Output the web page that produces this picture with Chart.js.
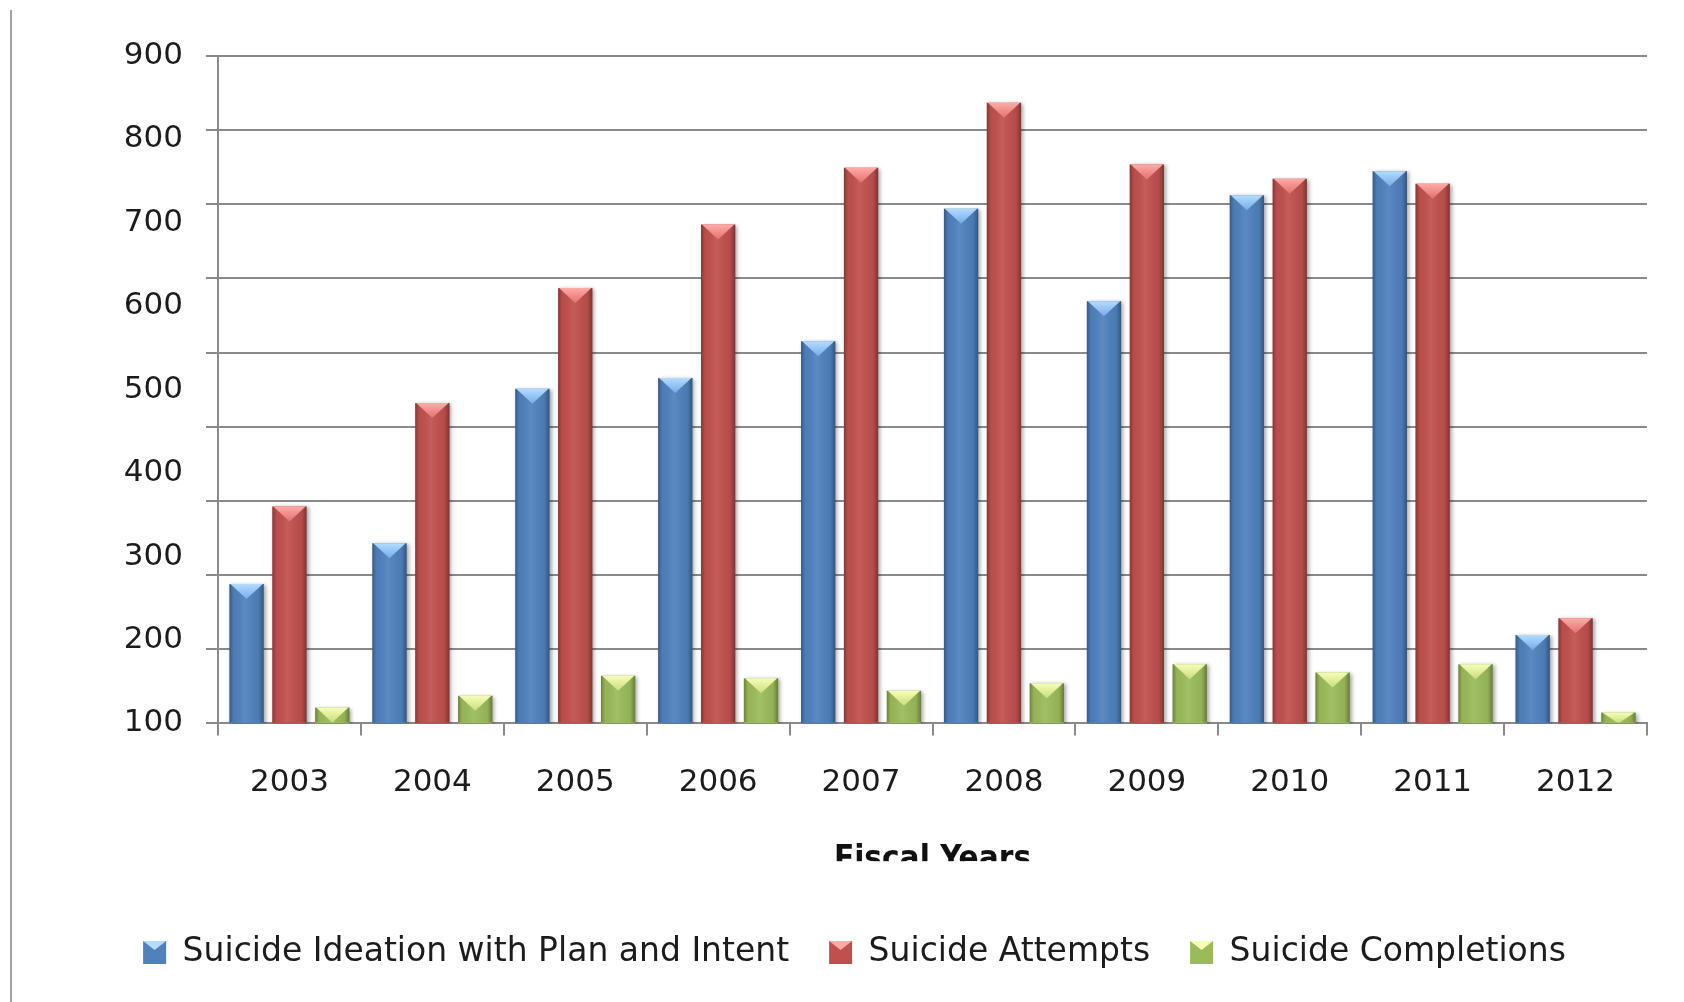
<!DOCTYPE html>
<html>
<head>
<meta charset="utf-8">
<script src="https://cdn.jsdelivr.net/npm/chart.js@4/dist/chart.umd.min.js"></script>
<style>
  html, body { margin: 0; padding: 0; background: #fff; }
  #wrap { position: relative; width: 1684px; height: 1002px; }
  #frame-line { position: absolute; left: 10px; top: 10px; bottom: 0; width: 2px; background: #a4a4a4; }
</style>
</head>
<body>
<div id="wrap">
  <div id="frame-line"></div>
  <canvas id="chart"></canvas>
</div>
<script>
// ====================
// Data
// ====================
const years = ["2003","2004","2005","2006","2007","2008","2009","2010","2011","2012"];
const ideation = [267, 316, 501, 514, 558, 717, 606, 733, 762, 206];
const attempts = [360, 484, 622, 698, 766, 844, 770, 753, 747, 226];
const completions = [119, 133, 157, 154, 139, 148, 171, 161, 171, 113];

const seriesNames = ["Suicide Ideation with Plan and Intent", "Suicide Attempts", "Suicide Completions"];

// labelled axis runs 100..900, grid lines are drawn on a 0..900 axis (as in the original picture)
const labelMin = 100, labelMax = 900, labelStep = 100;
const gridMin = 0, gridMax = 900, gridStep = 100;

// ====================
// Styles
// ====================
const GRID = "#8a8a8a";
const TEXT = "#1c1c1c";
const FONT = "'DejaVu Sans', sans-serif";
const NARROW = "'DejaVu Sans Condensed', 'DejaVu Sans', sans-serif";
const colors = ["#4f81bd", "#c0504d", "#9bbb59"];
const capColors = [["#b3dcff", "#74ace9"], ["#ffaaa8", "#e2726f"], ["#f7fdb8", "#c9de7c"]];
const TITLE_SIZE = 33, TITLE_PAD = 16;

// ====================
// 3D look for the bars (shadow, side shading, top bevel)
// ====================
const barBevel = {
    id: "barBevel",
    beforeDatasetsDraw(chart) {
        const ctx = chart.ctx;
        ctx.save();
        ctx.shadowColor = "rgba(0,0,0,0.35)";
        ctx.shadowBlur = 4;
        ctx.shadowOffsetX = 2;
        ctx.shadowOffsetY = 1;
    },
    afterDatasetsDraw(chart) {
        const ctx = chart.ctx;
        const area = chart.chartArea;
        ctx.restore();
        ctx.save();
        ctx.beginPath();
        ctx.rect(area.left, area.top - 2, area.right - area.left, area.bottom - area.top + 1);
        ctx.clip();
        chart.data.datasets.forEach((ds, di) => {
            chart.getDatasetMeta(di).data.forEach(bar => {
                const p = bar.getProps(["x", "y", "base", "width"], true);
                const l = p.x - p.width / 2, r = p.x + p.width / 2;
                const h = Math.min(p.base, area.bottom) - p.y;
                const g = ctx.createLinearGradient(l, 0, r, 0);
                g.addColorStop(0, "rgba(0,0,0,0.30)");
                g.addColorStop(0.12, "rgba(0,0,0,0.04)");
                g.addColorStop(0.45, "rgba(255,255,255,0.07)");
                g.addColorStop(0.85, "rgba(0,0,0,0.05)");
                g.addColorStop(1, "rgba(0,0,0,0.34)");
                ctx.fillStyle = g;
                ctx.fillRect(l, p.y, p.width, h);

                const d = Math.min(15, h);
                const tg = ctx.createLinearGradient(0, p.y, 0, p.y + d);
                tg.addColorStop(0, capColors[di][0]);
                tg.addColorStop(1, capColors[di][1]);
                ctx.beginPath();
                ctx.moveTo(l + 1, p.y);
                ctx.lineTo(r - 1, p.y);
                ctx.lineTo(p.x, p.y + d);
                ctx.closePath();
                ctx.fillStyle = tg;
                ctx.fill();
            });
        });
        ctx.restore();
    }
};

// the axis title is cut off at the bottom in the original
const titleCut = {
    id: "titleCut",
    afterDraw(chart) {
        const xs = chart.scales.x;
        const ctx = chart.ctx;
        const cut = xs.bottom - TITLE_PAD - TITLE_SIZE * 1.2 / 2 + 1;
        ctx.save();
        ctx.fillStyle = "#fff";
        ctx.fillRect(xs.left, cut, xs.right - xs.left, xs.bottom - cut);
        // small bevel on legend boxes
        chart.legend.legendHitBoxes.forEach((hb, i) => {
            const top = hb.top + 5;
            ctx.beginPath();
            ctx.moveTo(hb.left, top);
            ctx.lineTo(hb.left + 23, top);
            ctx.lineTo(hb.left + 11.5, top + 9);
            ctx.closePath();
            ctx.fillStyle = capColors[i][0];
            ctx.fill();
        });
        ctx.restore();
    }
};

// ====================
// Chart
// ====================
const datasets = [ideation, attempts, completions].map((values, i) => ({
    label: seriesNames[i],
    data: values,
    yAxisID: "y",
    backgroundColor: colors[i],
    borderWidth: 0,
    categoryPercentage: 0.9,
    barPercentage: 0.8
}));

new Chart(document.getElementById("chart"), {
    type: "bar",
    data: { labels: years, datasets: datasets },
    plugins: [barBevel, titleCut],
    options: {
        responsive: true,
        maintainAspectRatio: false,
        animation: false,
        layout: { padding: { left: 62, right: 37, top: 56, bottom: 26 } },
        plugins: {
            tooltip: { enabled: false },
            legend: {
                position: "bottom",
                maxHeight: 80,
                labels: {
                    font: { family: FONT, size: 33 },
                    color: TEXT,
                    boxWidth: 23,
                    boxHeight: 23,
                    padding: 40,
                    generateLabels: chart => chart.data.datasets.map((ds, i) => ({
                        text: ds.label,
                        fillStyle: colors[i],
                        strokeStyle: colors[i],
                        lineWidth: 0,
                        hidden: false,
                        fontColor: TEXT,
                        datasetIndex: i
                    }))
                }
            }
        },
        scales: {
            x: {
                grid: { offset: true, drawOnChartArea: false, tickLength: 12, color: GRID, lineWidth: 2 },
                border: { color: GRID, width: 2 },
                ticks: { font: { family: FONT, size: 31 }, color: TEXT, padding: 29, maxRotation: 0, autoSkip: false },
                title: {
                    display: true,
                    text: "Fiscal Years",
                    font: { family: NARROW, size: TITLE_SIZE, weight: "bold" },
                    color: "#111",
                    padding: { top: 0, bottom: TITLE_PAD }
                },
                afterFit: s => { s.height = 172.6; }
            },
            yGrid: {
                position: "left",
                weight: 0,
                min: gridMin,
                max: gridMax,
                ticks: { display: false, stepSize: gridStep },
                grid: { color: GRID, lineWidth: 2, tickLength: 12 },
                border: { color: GRID, width: 2 },
                afterFit: s => { s.width = 12; }
            },
            y: {
                position: "left",
                weight: 1,
                min: labelMin,
                max: labelMax,
                ticks: { stepSize: labelStep, font: { family: FONT, size: 31 }, color: TEXT, padding: 23 },
                grid: { display: false, drawTicks: false },
                border: { display: false },
                afterFit: s => { s.width = 144; }
            }
        }
    }
});
</script>
</body>
</html>
